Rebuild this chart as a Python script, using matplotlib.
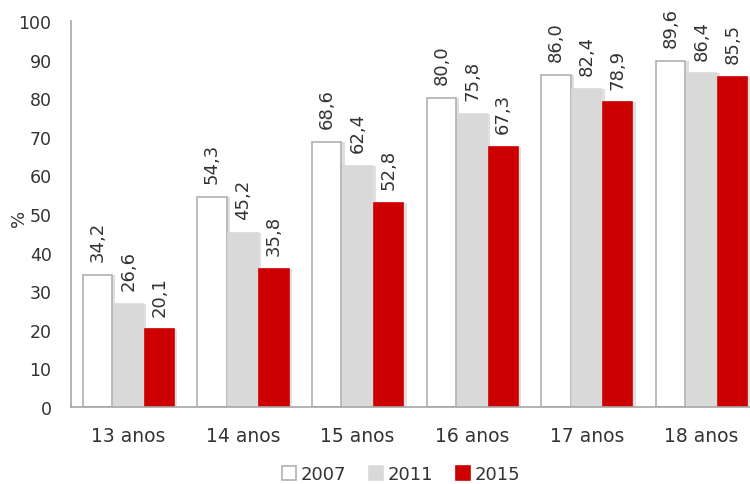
import numpy as np
import matplotlib.pyplot as plt

# Data
categories = ["13 anos", "14 anos", "15 anos", "16 anos", "17 anos", "18 anos"]
years = ["2007", "2011", "2015"]
values_2007 = [34.2, 54.3, 68.6, 80.0, 86.0, 89.6]
values_2011 = [26.6, 45.2, 62.4, 75.8, 82.4, 86.4]
values_2015 = [20.1, 35.8, 52.8, 67.3, 78.9, 85.5]

series = [values_2007, values_2011, values_2015]
faces = ["white", "#d9d9d9", "#cc0000"]
edges = ["#b0b0b0", "#d9d9d9", "#cc0000"]
text_color = "#333333"

fig = plt.figure(figsize=(7.5, 4.85), dpi=100)
ax = fig.add_axes([0.0947, 0.1588, 0.917, 0.7959])

x = np.arange(len(categories))
width = 0.255
offsets = [-0.27, 0.0, 0.27]

for vals, face, edge, off, label in zip(series, faces, edges, offsets, years):
    # soft shadow on the right side of each bar
    ax.bar(x + off + 0.03, vals, width, color="#9a9a9a", alpha=0.3,
           linewidth=0, zorder=1)
    bars = ax.bar(x + off, vals, width, color=face, edgecolor=edge,
                  linewidth=1.2, zorder=2, label=label)
    for b, v in zip(bars, vals):
        ax.annotate(f"{v:.1f}".replace(".", ","),
                    (b.get_x() + b.get_width() / 2, v),
                    xytext=(0, 10), textcoords="offset points",
                    rotation=90, ha="center", va="bottom",
                    fontsize=13, color=text_color)

ax.set_xlim(-0.5, 5.5)
ax.set_ylim(0, 100)
ax.set_yticks(range(0, 101, 10))
ax.set_xticks(x)
ax.set_xticklabels(categories, fontsize=13.5)
ax.tick_params(axis="both", length=0, colors=text_color)
ax.tick_params(axis="y", labelsize=12.5, pad=14)
ax.tick_params(axis="x", pad=14)

# y axis title
fig.text(0.025, 0.55, "%", rotation=90, ha="center", va="center",
         fontsize=13, color=text_color)

for side in ["top", "right"]:
    ax.spines[side].set_visible(False)
for side in ["left", "bottom"]:
    ax.spines[side].set_color("#a6a6a6")
    ax.spines[side].set_linewidth(1.2)

fig.legend(loc="center", bbox_to_anchor=(0.535, 0.02), ncol=3, frameon=False,
           fontsize=13, handlelength=0.75, handleheight=0.75, handletextpad=0.25,
           columnspacing=1.3, labelcolor=text_color)

fig.savefig("out.png", dpi=100)
